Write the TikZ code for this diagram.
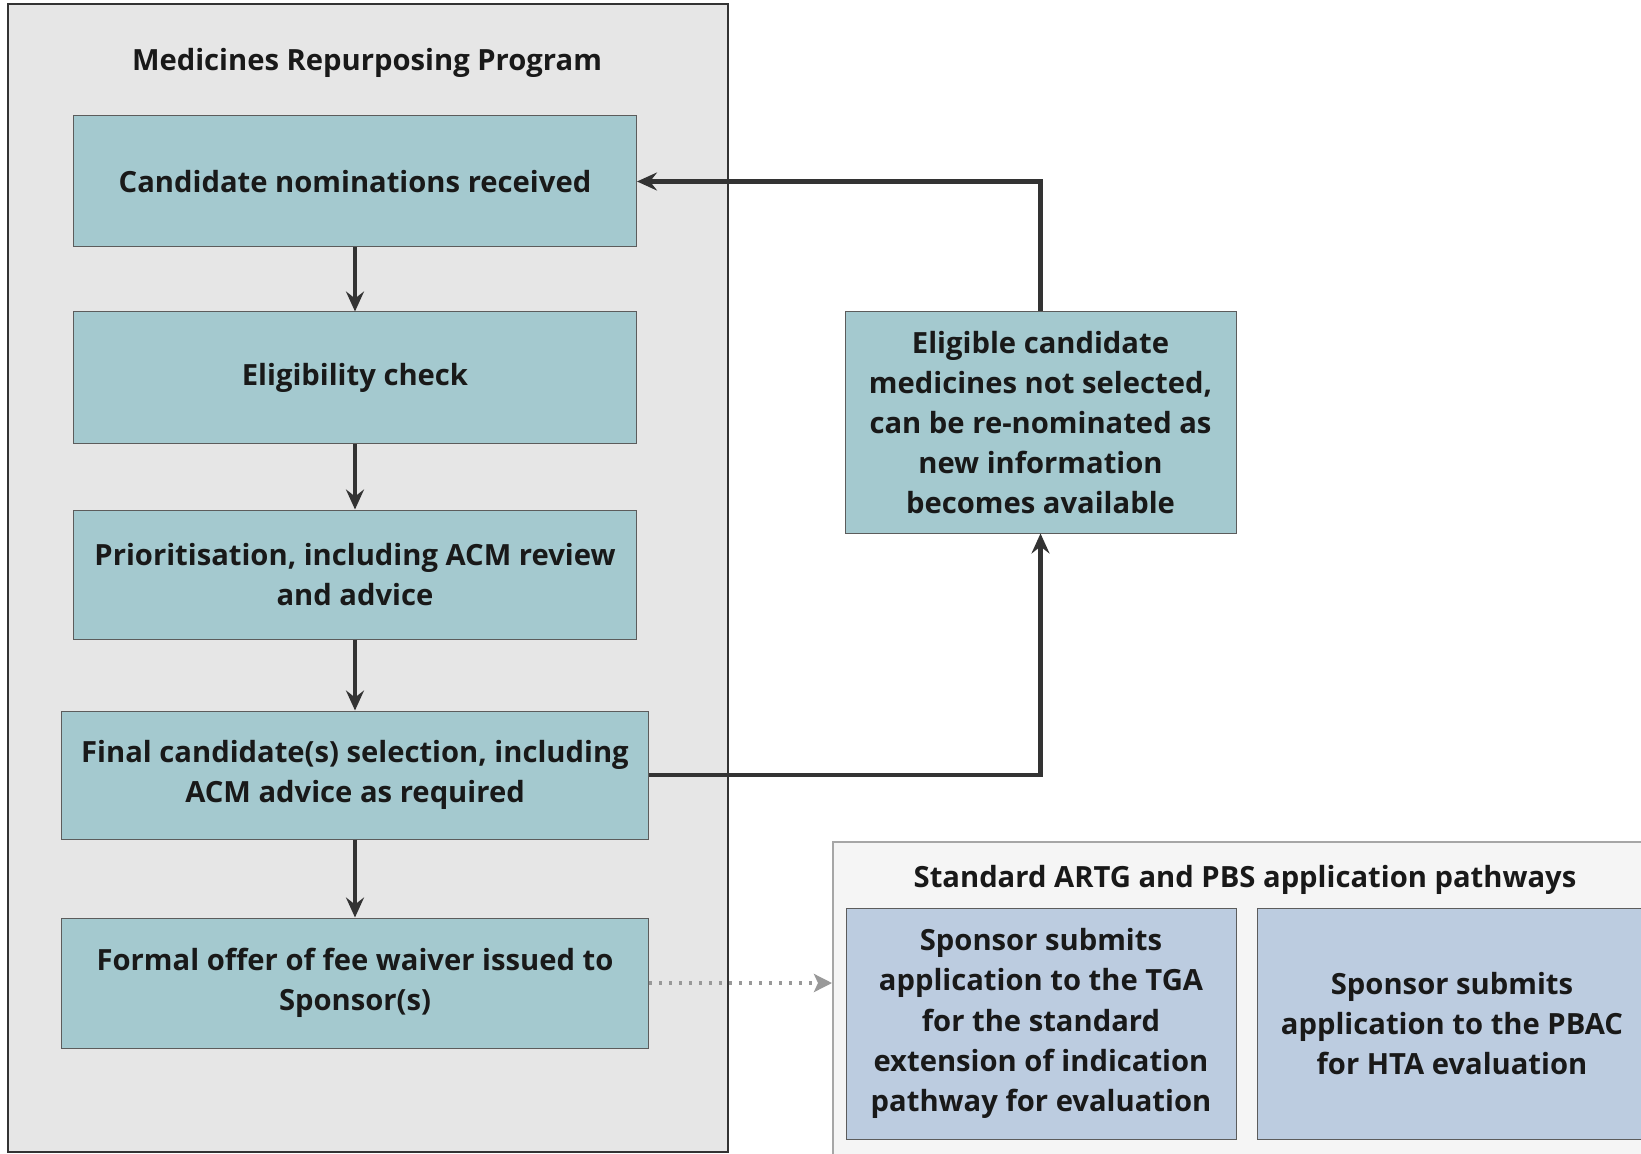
\documentclass[tikz,border=0pt]{standalone}
\usepackage{fontspec}
\setmainfont{Open Sans}
\usetikzlibrary{arrows.meta}
\definecolor{teal}{RGB}{164,201,207}
\definecolor{lblue}{RGB}{188,204,224}
\definecolor{grayA}{RGB}{230,230,230}
\definecolor{grayB}{RGB}{245,245,245}
\definecolor{ink}{RGB}{51,51,51}
\tikzset{
  tbox/.style={draw=ink!80, line width=0.5pt, fill=teal, align=center, inner sep=0pt, font=\bfseries\fontsize{14.6}{20.1}\selectfont, text=black!90},
  bbox/.style={draw=ink!80, line width=0.5pt, fill=lblue, align=center, inner sep=0pt, font=\bfseries\fontsize{14.6}{20.1}\selectfont, text=black!90},
  arr/.style={draw=ink, line width=2.1pt, -{Stealth[length=10pt,width=9pt,inset=3.5pt]}},
  dotarr/.style={draw=gray!80, line width=1.8pt, dash pattern=on 1.6pt off 3.4pt, -{Stealth[length=9pt,width=9pt,inset=2pt]}},
  ttl/.style={font=\bfseries\fontsize{14.6}{20.1}\selectfont, text=black!90}
}
\begin{document}
\begin{tikzpicture}[x=0.5pt,y=-0.5pt]
\useasboundingbox (0,0) rectangle (1641,1154);
\fill[white] (0,0) rectangle (1641,1154);
% left container
\node[draw=ink, line width=1.2pt, fill=grayA, minimum width=360pt, minimum height=574pt, inner sep=0pt] (left) at (368,578) {};
\node[ttl] (lt) at (367,63) {Medicines Repurposing Program};
% steps
\node[tbox, minimum width=281.5pt, minimum height=65.5pt] (b1) at (355,181.5) {Candidate nominations received};
\node[tbox, minimum width=281.5pt, minimum height=65.5pt] (b2) at (355,377.5) {Eligibility check};
\node[tbox, minimum width=281.5pt, minimum height=64.5pt] (b3) at (355,574.5) {Prioritisation, including ACM review\\and advice};
\node[tbox, minimum width=293.5pt, minimum height=64pt] (b4) at (355,775) {Final candidate(s) selection, including\\ACM advice as required};
\node[tbox, minimum width=293.5pt, minimum height=65pt] (b5) at (355,983) {Formal offer of fee waiver issued to\\Sponsor(s)};
% right feedback box
\node[tbox, minimum width=195.5pt, minimum height=110.5pt] (rb) at (1040.5,422.5) {Eligible candidate\\medicines not selected,\\can be re-nominated as\\new information\\becomes available};
% standard pathways container
\node[draw=gray!70, line width=0.8pt, fill=grayB, minimum width=420pt, minimum height=170pt, inner sep=0pt, anchor=north west] (std) at (832,841) {};
\node[ttl] (st) at (1245,880) {Standard ARTG and PBS application pathways};
\node[bbox, minimum width=195pt, minimum height=115.5pt] (tga) at (1041,1023.5) {Sponsor submits\\application to the TGA\\for the standard\\extension of indication\\pathway for evaluation};
\node[bbox, minimum width=195pt, minimum height=115.5pt] (pbac) at (1452,1023.5) {Sponsor submits\\application to the PBAC\\for HTA evaluation};
% connectors
\draw[arr] (b1) -- (b2);
\draw[arr] (b2) -- (b3);
\draw[arr] (b3) -- (b4);
\draw[arr] (b4) -- (b5);
\draw[arr] (b4.east) -| (rb.south);
\draw[arr] (rb.north) |- (b1.east);
\draw[dotarr] (b5.east) -- (b5.east -| std.west);
\end{tikzpicture}
\end{document}
